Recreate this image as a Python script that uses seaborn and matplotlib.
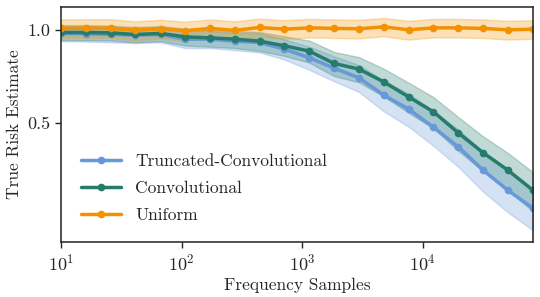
import numpy as np
import pandas as pd
import seaborn as sns
import matplotlib.pyplot as plt

# frequency samples (log spaced)
samples = [10, 16, 26, 41, 67, 107, 172, 276, 443, 712, 1144, 1838, 2953,
           4745, 7624, 12250, 19680, 31620, 50800, 82000]

trunc_mean = [0.976, 0.973, 0.968, 0.963, 0.968, 0.935, 0.935, 0.921, 0.912, 0.868,
              0.814, 0.753, 0.701, 0.616, 0.555, 0.485, 0.419, 0.352, 0.303, 0.265]
trunc_std = [0.055, 0.055, 0.055, 0.055, 0.055, 0.06, 0.06, 0.06, 0.065, 0.065,
             0.07, 0.07, 0.07, 0.07, 0.068, 0.063, 0.058, 0.052, 0.046, 0.04]

conv_mean = [0.983, 0.983, 0.980, 0.968, 0.976, 0.951, 0.944, 0.935, 0.921, 0.890,
             0.855, 0.780, 0.748, 0.680, 0.608, 0.544, 0.465, 0.401, 0.352, 0.303]
conv_std = [0.055, 0.055, 0.055, 0.055, 0.055, 0.06, 0.06, 0.06, 0.065, 0.065,
            0.07, 0.07, 0.07, 0.07, 0.068, 0.063, 0.058, 0.052, 0.048, 0.044]

unif_mean = [1.013, 1.015, 1.015, 0.998, 1.010, 0.995, 1.013, 0.998, 1.020, 1.007,
             1.017, 1.013, 1.010, 1.025, 1.002, 1.017, 1.017, 1.013, 1.002, 1.007]
unif_std = [0.07] * 20

series = [
    ("Truncated-Convolutional", trunc_mean, trunc_std, "#6798d8"),
    ("Convolutional", conv_mean, conv_std, "#267c6c"),
    ("Uniform", unif_mean, unif_std, "#f39200"),
]

sns.set_style("ticks")
plt.rcParams["font.family"] = ["cmr10", "DejaVu Serif"]
plt.rcParams["mathtext.fontset"] = "cm"
plt.rcParams["axes.formatter.use_mathtext"] = True

fig, ax = plt.subplots(figsize=(5.4, 2.97), dpi=100)
fig.subplots_adjust(left=0.113, right=0.987, top=0.976, bottom=0.185)

for name, mean, std, color in series:
    df = pd.DataFrame({"x": samples, "y": mean})
    lo = np.array(mean) - np.array(std)
    hi = np.array(mean) + np.array(std)
    ax.fill_between(samples, lo, hi, color=color, alpha=0.28, lw=1)
    sns.lineplot(data=df, x="x", y="y", ax=ax, color=color, lw=2.5,
                 marker="o", markersize=5.5, markeredgewidth=0, label=name)

ax.set_xscale("log")
ax.set_yscale("log")
ax.set_xlim(10, 82000)
ax.set_ylim(0.206, 1.187)
ax.set_yticks([0.5, 1.0])
ax.set_yticklabels(["0.5", "1.0"])
ax.yaxis.set_minor_locator(plt.NullLocator())
ax.xaxis.set_minor_locator(plt.NullLocator())
ax.tick_params(labelsize=13, length=4, width=1)
for s in ax.spines.values():
    s.set_color("#222222")
    s.set_linewidth(1.1)

ax.set_xlabel("Frequency Samples", fontsize=12.5, labelpad=3)
ax.set_ylabel("True Risk Estimate", fontsize=12.5)
ax.legend(loc="lower left", bbox_to_anchor=(0.01, 0.015), frameon=False,
          fontsize=12.5, handlelength=2.3, labelspacing=0.68)

plt.savefig("out.png", dpi=100)
